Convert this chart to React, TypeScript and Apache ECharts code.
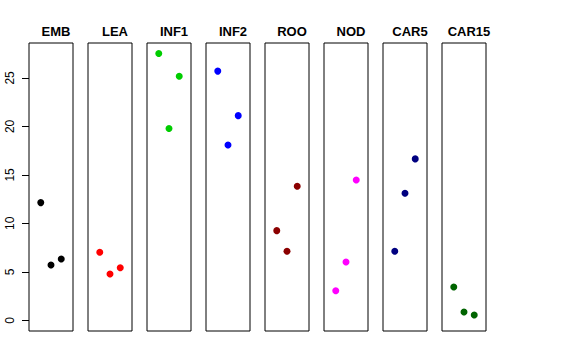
import React, { useEffect, useRef } from "react";
import * as echarts from "echarts";

const categories = ["EMB", "LEA", "INF1", "INF2", "ROO", "NOD", "CAR5", "CAR15"];
const colors = ["#000000", "#FF0000", "#00CD00", "#0000FF", "#8B0000", "#FF00FF", "#000080", "#006400"];
// values per category, in order of jitter slot (left, centre, right)
const embValues = [12.14, 5.7, 6.33];
const leaValues = [7.02, 4.78, 5.43];
const inf1Values = [27.51, 19.78, 25.18];
const inf2Values = [25.7, 18.09, 21.11];
const rooValues = [9.25, 7.12, 13.83];
const nodValues = [3.05, 6.02, 14.48];
const car5Values = [7.12, 13.1, 16.65];
const car15Values = [3.44, 0.86, 0.55];
const seriesValues = [embValues, leaValues, inf1Values, inf2Values, rooValues, nodValues, car5Values, car15Values];
const yTicks = [0, 5, 10, 15, 20, 25];

export default function App() {
  const ref = useRef<HTMLDivElement>(null);
  useEffect(() => {
    if (!ref.current) return;
    const chart = echarts.init(ref.current, null, { renderer: "svg" });
    const panelLeft0 = 29;
    const step = 59;
    const panelW = 44;
    const top = 43;
    const height = 288;
    const grids = categories.map((_, i) => ({
      left: panelLeft0 + step * i,
      top,
      width: panelW,
      height,
      show: true,
      borderColor: "#000",
      borderWidth: 1,
      backgroundColor: "transparent",
    }));
    const xAxes = categories.map((_, i) => ({
      gridIndex: i,
      type: "value",
      min: -2.15,
      max: 2.15,
      show: false,
    }));
    const yAxes = categories.map((_, i) => ({
      gridIndex: i,
      type: "value",
      position: "left",
      min: -1.1,
      max: 28.6,
      show: i === 0,
      splitLine: { show: false },
      axisLine: { show: false, onZero: false },
      axisTick: i === 0 ? { show: true, length: 7, customValues: yTicks, lineStyle: { color: "#000" } } : { show: false },
      axisLabel: i === 0
        ? { show: true, rotate: 90, margin: 13, customValues: yTicks, color: "#000", fontSize: 12, fontFamily: "Liberation Sans, Arial, sans-serif" }
        : { show: false },
    }));
    const series = categories.map((_, i) => ({
      type: "scatter",
      xAxisIndex: i,
      yAxisIndex: i,
      symbol: "circle",
      symbolSize: 7,
      itemStyle: { color: colors[i], opacity: 1 },
      data: seriesValues[i].map((v, j) => [j - 1, v]),
    }));
    const titles = categories.map((c, i) => ({
      text: c,
      left: panelLeft0 + step * i + panelW / 2,
      top: 20,
      textAlign: "center",
      textStyle: { fontSize: 13, fontWeight: "bold", color: "#000", fontFamily: "Liberation Sans, Arial, sans-serif" },
    }));
    chart.setOption({
      animation: false,
      backgroundColor: "#fff",
      title: titles,
      grid: grids,
      xAxis: xAxes,
      yAxis: yAxes,
      series,
    });
    return () => chart.dispose();
  }, []);
  return <div ref={ref} style={{ position: "fixed", left: 0, top: 0, width: 576, height: 360 }} />;
}
